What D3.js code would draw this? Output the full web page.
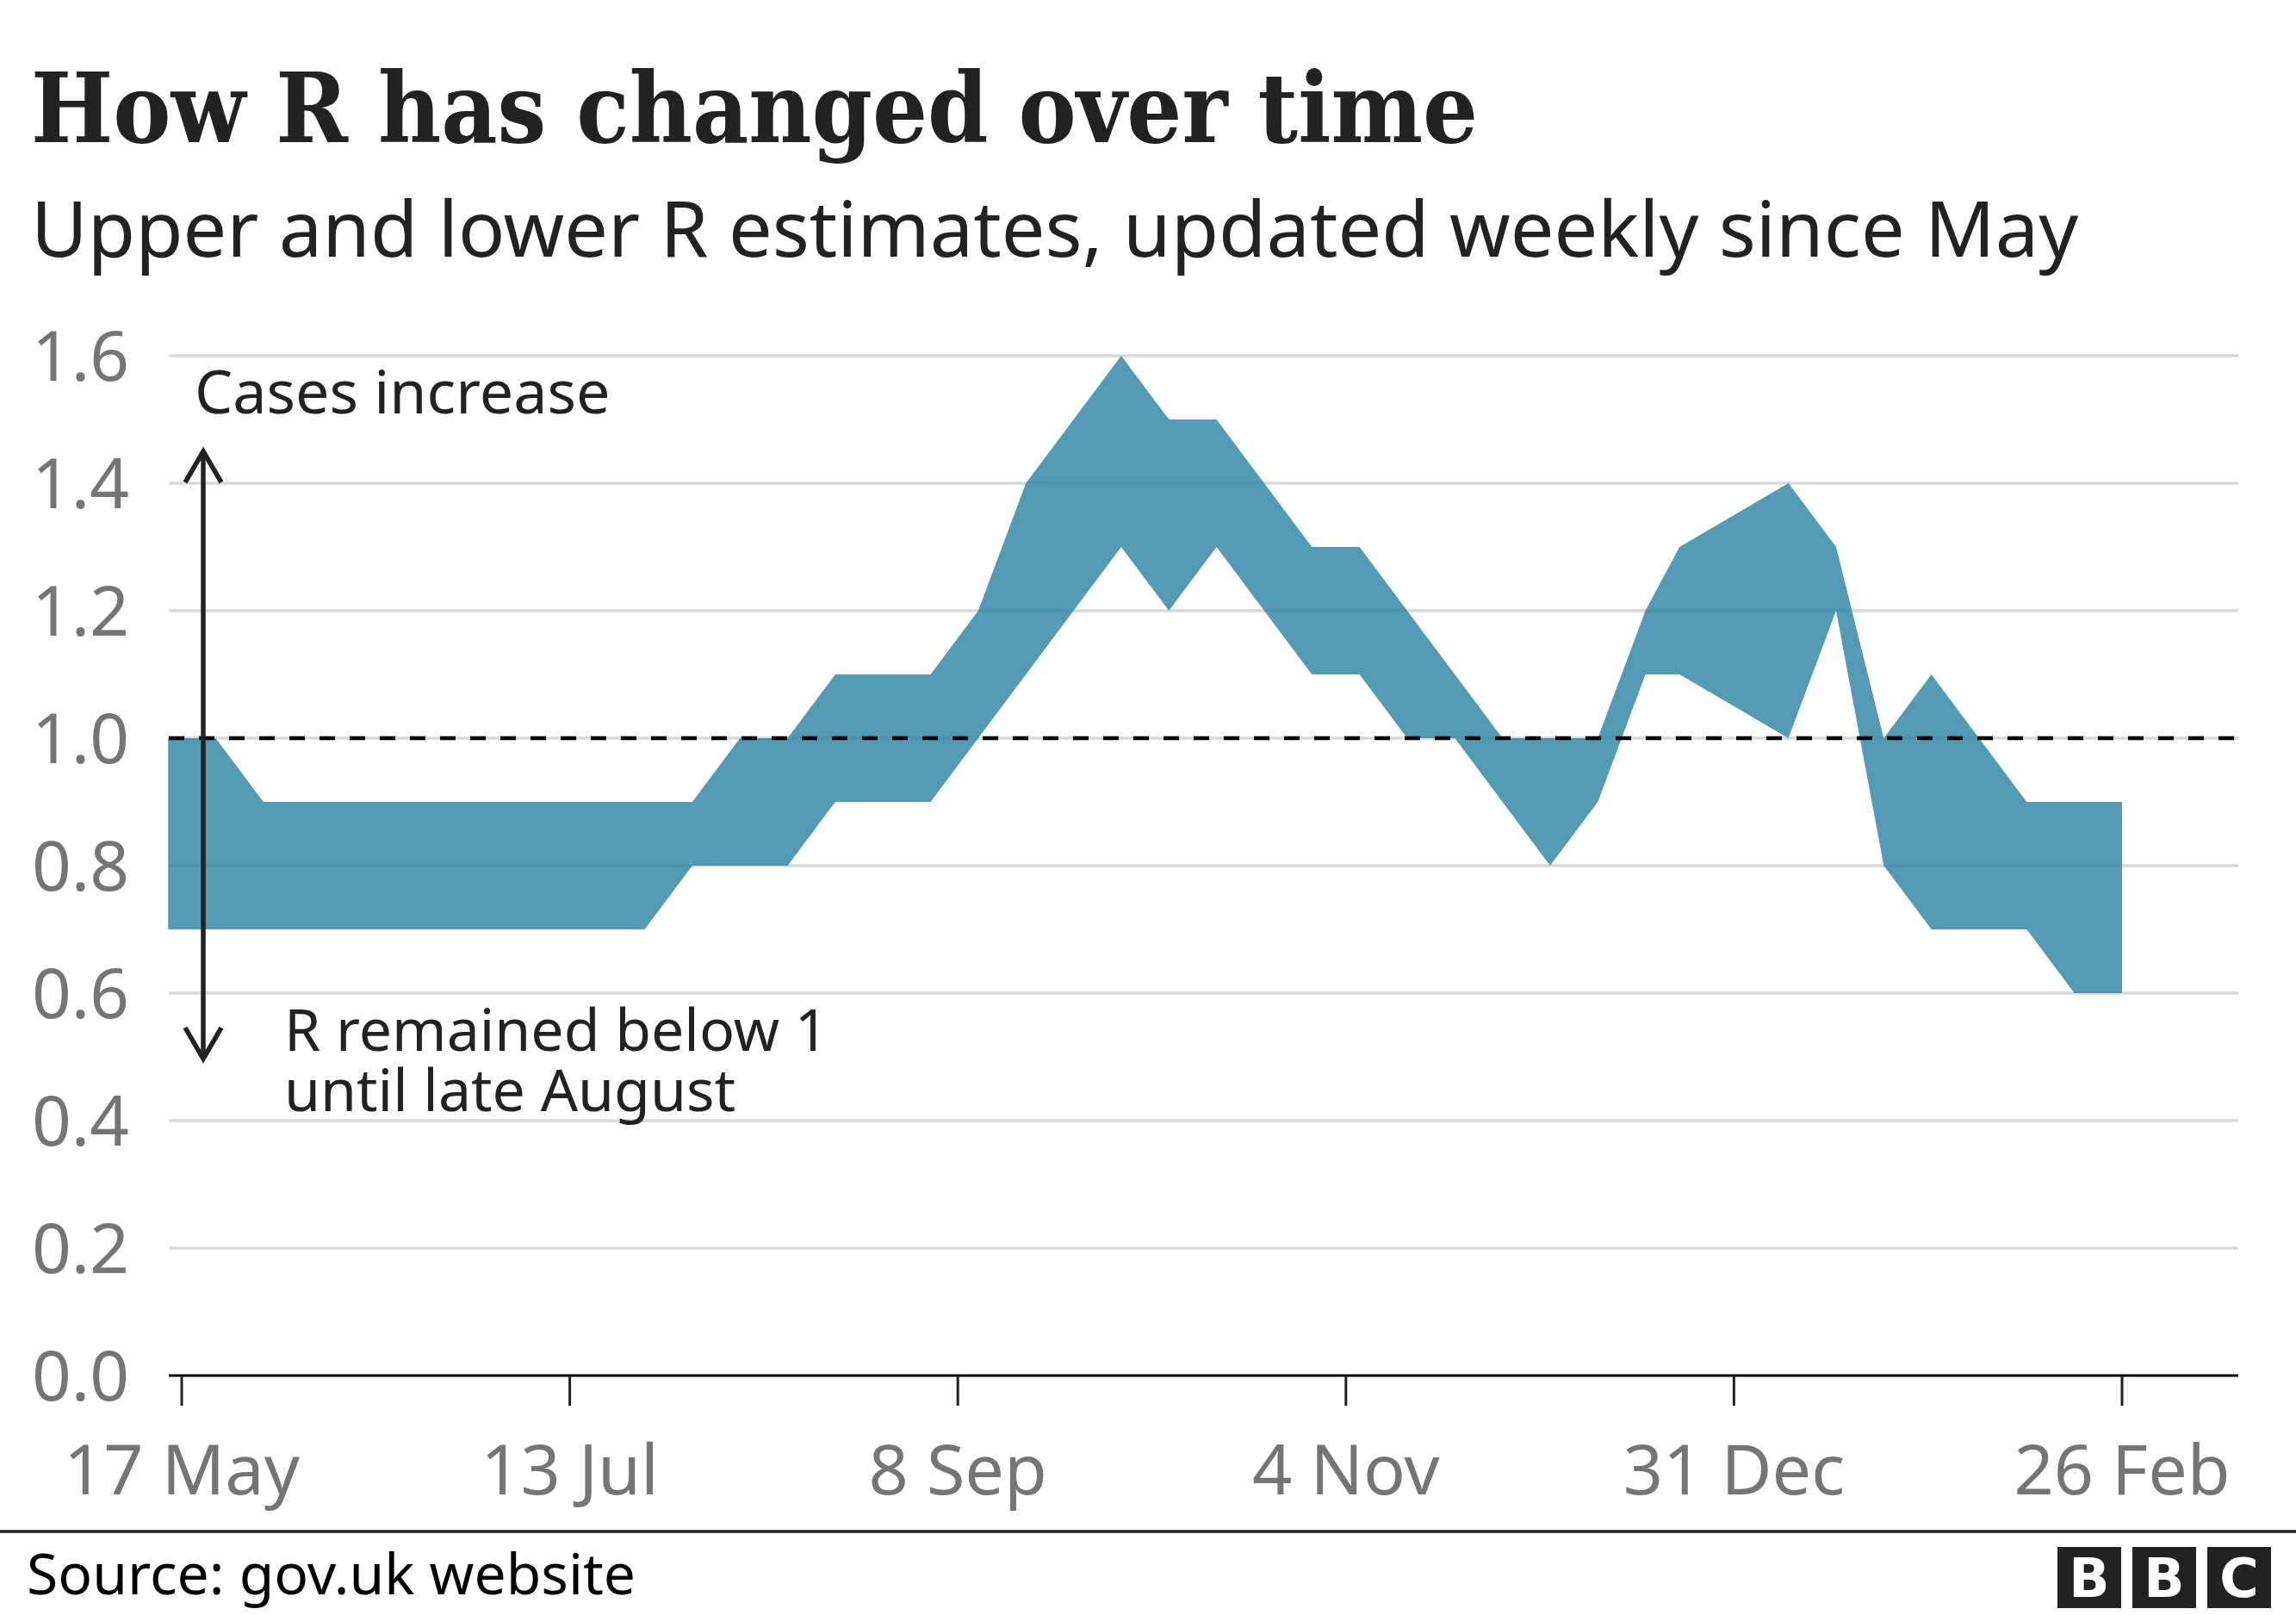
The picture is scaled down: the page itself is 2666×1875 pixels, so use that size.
<!DOCTYPE html>
<html>
<head>
<meta charset="utf-8">
<script src="https://cdn.jsdelivr.net/npm/d3@7"></script>
<style>
    html, body { margin: 0; padding: 0; background: #fff; }
    svg { display: block; }
</style>
</head>
<body>
<svg id="chart"></svg>
<script>
// Weekly R estimates (gov.uk)
const dates = [
    "2020-05-15", "2020-05-22", "2020-05-29", "2020-06-05", "2020-06-12", "2020-06-19",
    "2020-06-26", "2020-07-03", "2020-07-10", "2020-07-17", "2020-07-24", "2020-07-31",
    "2020-08-07", "2020-08-14", "2020-08-21", "2020-08-28", "2020-09-04", "2020-09-11",
    "2020-09-18", "2020-09-25", "2020-10-02", "2020-10-09", "2020-10-16", "2020-10-23",
    "2020-10-30", "2020-11-06", "2020-11-13", "2020-11-20", "2020-11-27", "2020-12-04",
    "2020-12-11", "2020-12-18", "2020-12-23", "2021-01-08", "2021-01-15", "2021-01-22",
    "2021-01-29", "2021-02-05", "2021-02-12", "2021-02-19", "2021-02-26"
];
const lower = [
    0.7, 0.7, 0.7, 0.7, 0.7, 0.7, 0.7, 0.7, 0.7, 0.7, 0.7, 0.8,
    0.8, 0.8, 0.9, 0.9, 0.9, 1.0, 1.1, 1.2, 1.3, 1.2, 1.3, 1.2,
    1.1, 1.1, 1.0, 1.0, 0.9, 0.8, 0.9, 1.1, 1.1, 1.0, 1.2, 0.8,
    0.7, 0.7, 0.7, 0.6, 0.6
];
const upper = [
    1.0, 1.0, 0.9, 0.9, 0.9, 0.9, 0.9, 0.9, 0.9, 0.9, 0.9, 0.9,
    1.0, 1.0, 1.1, 1.1, 1.1, 1.2, 1.4, 1.5, 1.6, 1.5, 1.5, 1.4,
    1.3, 1.3, 1.2, 1.1, 1.0, 1.0, 1.0, 1.2, 1.3, 1.4, 1.3, 1.0,
    1.1, 1.0, 0.9, 0.9, 0.9
];
const yTicks = [0, 0.2, 0.4, 0.6, 0.8, 1.0, 1.2, 1.4, 1.6];
const xTicks = ["2020-05-17", "2020-07-13", "2020-09-08", "2020-11-04", "2020-12-31", "2021-02-26"];
const xTickLabels = ["17 May", "13 Jul", "8 Sep", "4 Nov", "31 Dec", "26 Feb"];

const W = 2666, H = 1875;
const SANS = "'Noto Sans', 'Open Sans', sans-serif";

const svg = d3.select("#chart").attr("width", W).attr("height", H);
svg.append("rect").attr("width", W).attr("height", H).attr("fill", "#fff");

const parse = d3.utcParse("%Y-%m-%d");
const rows = dates.map((d, i) => ({ date: parse(d), lo: lower[i], hi: upper[i] }));

const x = d3.scaleUtc()
    .domain([parse(xTicks[0]), parse(xTicks[xTicks.length - 1])])
    .range([211, 2464]);
const y = d3.scaleLinear().domain([0, 1.6]).range([1597, 413]);

const plotLeft = 196, plotRight = 2599;

// title + subtitle
svg.append("text")
    .attr("x", 36).attr("y", 165)
    .attr("font-family", "'DejaVu Serif', serif")
    .attr("font-weight", "bold")
    .attr("font-stretch", "condensed")
    .attr("font-size", 112)
    .attr("fill", "#222")
    .text("How R has changed over time");

svg.append("text")
    .attr("x", 36).attr("y", 298)
    .attr("font-family", SANS)
    .attr("font-size", 90)
    .attr("fill", "#222")
    .text("Upper and lower R estimates, updated weekly since May");

// gridlines
svg.append("g")
    .selectAll("line")
    .data(yTicks.filter(t => t > 0))
    .join("line")
    .attr("x1", plotLeft).attr("x2", plotRight)
    .attr("y1", d => y(d)).attr("y2", d => y(d))
    .attr("stroke", "#d9d9d9")
    .attr("stroke-width", 3.5);

// y labels
svg.append("g")
    .selectAll("text")
    .data(yTicks)
    .join("text")
    .attr("x", 150)
    .attr("y", d => y(d))
    .attr("dy", "0.36em")
    .attr("text-anchor", "end")
    .attr("font-family", SANS)
    .attr("font-size", 80)
    .attr("fill", "#757575")
    .text(d => d.toFixed(1));

// band
const area = d3.area()
    .x(d => x(d.date))
    .y0(d => y(d.lo))
    .y1(d => y(d.hi));

svg.append("path")
    .datum(rows)
    .attr("d", area)
    .attr("fill", "#2882a1")
    .attr("fill-opacity", 0.8);

// R = 1 reference
svg.append("line")
    .attr("x1", plotLeft).attr("x2", plotRight)
    .attr("y1", y(1)).attr("y2", y(1))
    .attr("stroke", "#000")
    .attr("stroke-width", 4.5)
    .attr("stroke-dasharray", "18,17");

// x axis
svg.append("line")
    .attr("x1", plotLeft).attr("x2", plotRight)
    .attr("y1", y(0)).attr("y2", y(0))
    .attr("stroke", "#000")
    .attr("stroke-width", 3);

const xt = svg.append("g")
    .selectAll("g")
    .data(xTicks.map((d, i) => ({ date: parse(d), label: xTickLabels[i] })))
    .join("g")
    .attr("transform", d => `translate(${x(d.date)},0)`);

xt.append("line")
    .attr("y1", y(0)).attr("y2", y(0) + 35)
    .attr("stroke", "#222")
    .attr("stroke-width", 3);

xt.append("text")
    .attr("y", 1735)
    .attr("text-anchor", "middle")
    .attr("font-family", SANS)
    .attr("font-size", 81)
    .attr("fill", "#757575")
    .text(d => d.label);

// annotation arrow
const ax = 236, aTop = y(1.45), aBot = y(0.497);
const arrow = svg.append("g")
    .attr("stroke", "#222").attr("stroke-width", 5.5)
    .attr("fill", "none").attr("stroke-linejoin", "miter");
arrow.append("line").attr("x1", ax).attr("x2", ax).attr("y1", aTop + 3).attr("y2", aBot - 3);
arrow.append("polyline").attr("points", `${ax - 21},${aTop + 36} ${ax},${aTop} ${ax + 21},${aTop + 36}`);
arrow.append("polyline").attr("points", `${ax - 21},${aBot - 36} ${ax},${aBot} ${ax + 21},${aBot - 36}`);

svg.append("text")
    .attr("x", 226).attr("y", 480)
    .attr("font-family", SANS)
    .attr("font-size", 70)
    .attr("fill", "#222")
    .text("Cases increase");

const note = svg.append("text")
    .attr("font-family", SANS)
    .attr("font-size", 68)
    .attr("fill", "#222");
note.append("tspan").attr("x", 330).attr("y", 1220).text("R remained below 1");
note.append("tspan").attr("x", 330).attr("y", 1290).text("until late August");

// footer
svg.append("line")
    .attr("x1", 0).attr("x2", W)
    .attr("y1", 1778).attr("y2", 1778)
    .attr("stroke", "#222")
    .attr("stroke-width", 3.5);

svg.append("text")
    .attr("x", 31).attr("y", 1851)
    .attr("font-family", SANS)
    .attr("font-size", 66)
    .attr("fill", "#000")
    .text("Source: gov.uk website");

const logo = svg.append("g")
    .selectAll("g")
    .data(["B", "B", "C"])
    .join("g")
    .attr("transform", (d, i) => `translate(${2389 + i * 87},1796)`);
logo.append("rect").attr("width", 74).attr("height", 71).attr("fill", "#222");
logo.append("text")
    .attr("x", 37).attr("y", 58)
    .attr("text-anchor", "middle")
    .attr("font-family", "'DejaVu Sans', sans-serif")
    .attr("font-weight", "bold")
    .attr("font-size", 62)
    .attr("fill", "#fff")
    .text(d => d);
</script>
</body>
</html>
